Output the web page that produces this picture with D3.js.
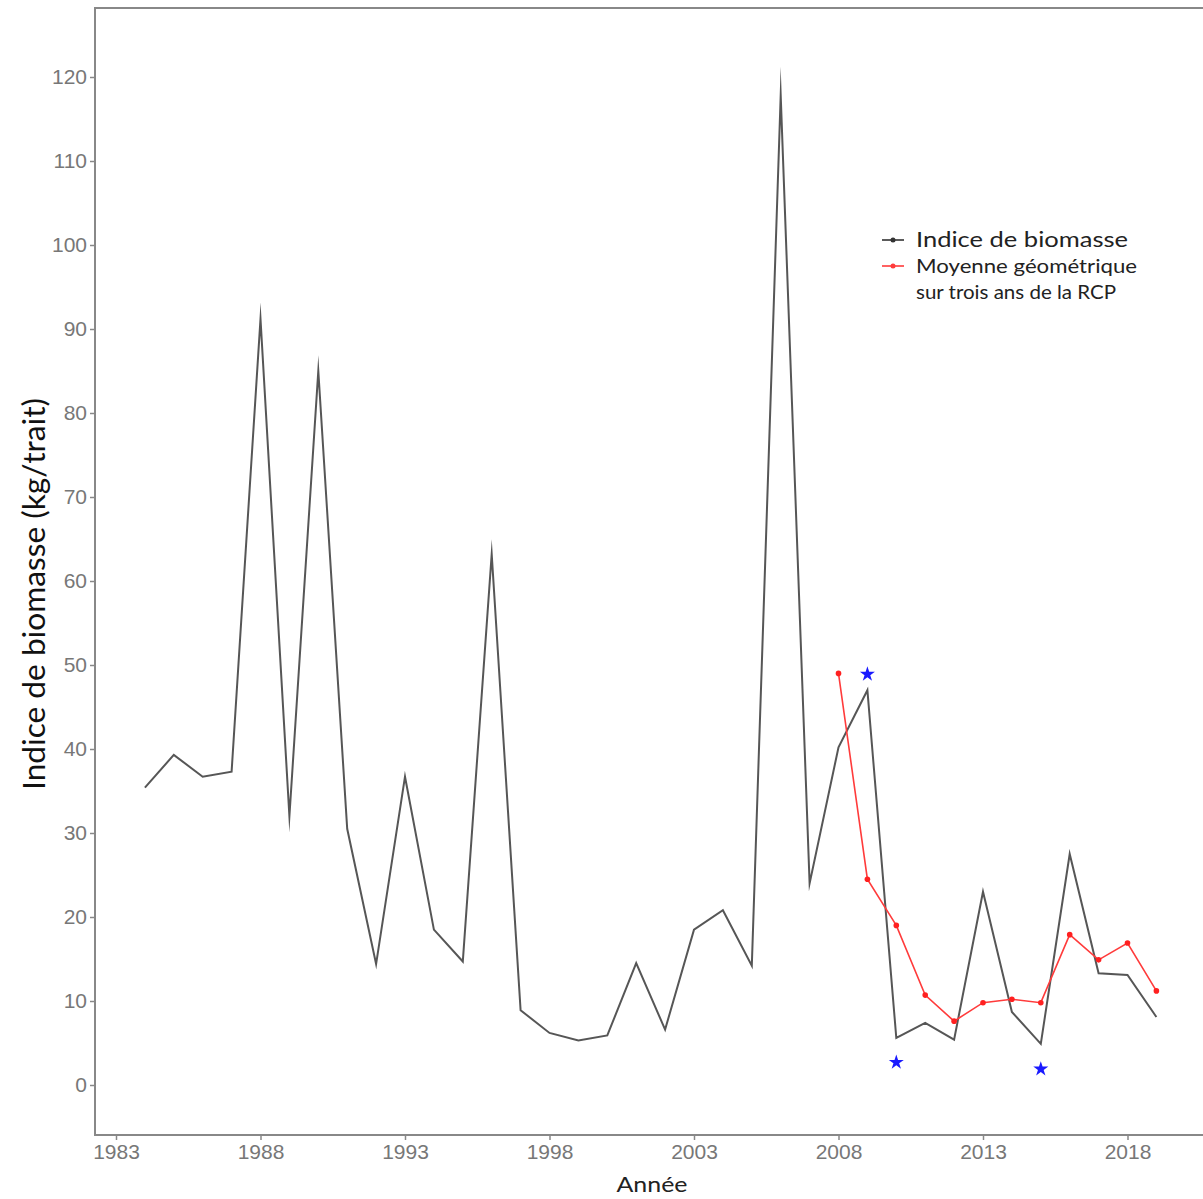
<!DOCTYPE html>
<html>
<head>
<meta charset="utf-8">
<script src="https://cdn.jsdelivr.net/npm/d3@7"></script>
<style>
body { margin:0; background:#fff; }
</style>
</head>
<body>
<div id="graph"></div>
<script>
// datos
var years = d3.range(1984, 2020);
var biomasse = [35.4, 39.3, 36.7, 37.3, 91.2, 32.0, 85.0, 30.5, 14.4, 36.7,
	18.5, 14.7, 63.2, 8.9, 6.2, 5.3, 5.9, 14.5, 6.6, 18.5,
	20.8, 14.2, 117.8, 24.0, 40.2, 47.0, 5.6, 7.4, 5.4, 23.0,
	8.7, 4.9, 27.5, 13.3, 13.1, 8.1];
var rcpYears = d3.range(2008, 2020);
var rcpMoy = [49.0, 24.5, 19.0, 10.7, 7.6, 9.8, 10.2, 9.8, 17.9, 14.9, 16.9, 11.2];
var starYears = [2009, 2010, 2015];
var starVals = [48.9, 2.7, 1.9];
var xTicks = [1983, 1988, 1993, 1998, 2003, 2008, 2013, 2018];
var yTicks = d3.range(0, 121, 10);

var W = 1203, H = 1199;
var panel = {left:95, top:8, right:1203, bottom:1135};

var svg = d3.select("#graph").append("svg").attr("width", W).attr("height", H);

var x = d3.scaleLinear().domain([1983, 2018]).range([116, 1127.5]);
var y = d3.scaleLinear().domain([0, 120]).range([1085, 77]);

var grey = "#888";
var tickCol = "#777";
var fontTxt = "Lato, Carlito, Calibri, sans-serif";

// borde del panel (arriba, izquierda, abajo)
svg.append("path")
	.attr("d", "M" + panel.right + "," + panel.top + "H" + panel.left + "V" + panel.bottom + "H" + panel.right)
	.attr("fill", "none").attr("stroke", grey).attr("stroke-width", 2);

// eje y
var yAxis = svg.append("g").attr("transform", "translate(" + panel.left + ",0)")
	.call(d3.axisLeft(y).tickValues(yTicks).tickSize(5).tickPadding(3));
yAxis.select(".domain").remove();
yAxis.selectAll("line").attr("stroke", grey).attr("stroke-width", 1.5);
yAxis.selectAll("text").attr("fill", tickCol).style("font-family", "Liberation Sans, Arial, sans-serif").style("font-size", "21px");

// eje x
var xAxis = svg.append("g").attr("transform", "translate(0," + panel.bottom + ")")
	.call(d3.axisBottom(x).tickValues(xTicks).tickFormat(d3.format("d")).tickSize(5).tickPadding(4));
xAxis.select(".domain").remove();
xAxis.selectAll("line").attr("stroke", grey).attr("stroke-width", 1.5);
xAxis.selectAll("text").attr("fill", tickCol).style("font-family", "Liberation Sans, Arial, sans-serif").style("font-size", "21px");

// titulos de ejes
svg.append("text").attr("transform", "translate(45,594) rotate(-90)")
	.attr("text-anchor", "middle").attr("fill", "#111")
	.attr("textLength", 392).attr("lengthAdjust", "spacingAndGlyphs")
	.style("font-family", fontTxt).style("font-size", "31px")
	.text("Indice de biomasse (kg/trait)");
svg.append("text").attr("x", 652).attr("y", 1192)
	.attr("text-anchor", "middle").attr("fill", "#222")
	.attr("textLength", 71).attr("lengthAdjust", "spacingAndGlyphs")
	.style("font-family", fontTxt).style("font-size", "22px")
	.text("Année");

// serie negra
var line = d3.line().x(function(d){ return x(d[0]); }).y(function(d){ return y(d[1]); });
svg.append("path")
	.datum(years.map(function(yr, i){ return [yr, biomasse[i]]; }))
	.attr("d", line).attr("fill", "none")
	.attr("stroke", "#444").attr("stroke-width", 2)
	.attr("stroke-linejoin", "miter").attr("stroke-miterlimit", 50)
	.attr("stroke-opacity", 0.9);

// media geometrica (roja)
var rcp = rcpYears.map(function(yr, i){ return [yr, rcpMoy[i]]; });
svg.append("path").datum(rcp).attr("d", line).attr("fill", "none")
	.attr("stroke", "#ff3b3b").attr("stroke-width", 1.6);
svg.selectAll(".pt").data(rcp).enter().append("circle")
	.attr("cx", function(d){ return x(d[0]); }).attr("cy", function(d){ return y(d[1]); })
	.attr("r", 2.8).attr("fill", "#ff2020");

// estrellas azules
svg.selectAll(".star").data(starYears).enter().append("path")
	.attr("d", d3.symbol().type(d3.symbolStar).size(70))
	.attr("transform", function(d, i){ return "translate(" + x(d) + "," + y(starVals[i]) + ")"; })
	.attr("fill", "#1a1aff");

// leyenda
var leg = svg.append("g").attr("transform", "translate(882,240)");
var items = [
	{c:"#333", t:["Indice de biomasse"], w:[212], fs:22},
	{c:"#ff3b3b", t:["Moyenne géométrique", "sur trois ans de la RCP"], w:[221, 200], fs:20}
];
items.forEach(function(it, i){
	var g = leg.append("g").attr("transform", "translate(0," + (i * 26) + ")");
	g.append("line").attr("x1", 0).attr("x2", 22).attr("stroke", it.c).attr("stroke-width", 1.6);
	g.append("circle").attr("cx", 11).attr("r", 2.5).attr("fill", it.c);
	it.t.forEach(function(s, j){
		g.append("text").attr("x", 34).attr("y", 7 + j * 26)
			.attr("fill", "#222")
			.attr("textLength", it.w[j]).attr("lengthAdjust", "spacingAndGlyphs")
			.style("font-family", fontTxt).style("font-size", it.fs + "px")
			.text(s);
	});
});
</script>
</body>
</html>
